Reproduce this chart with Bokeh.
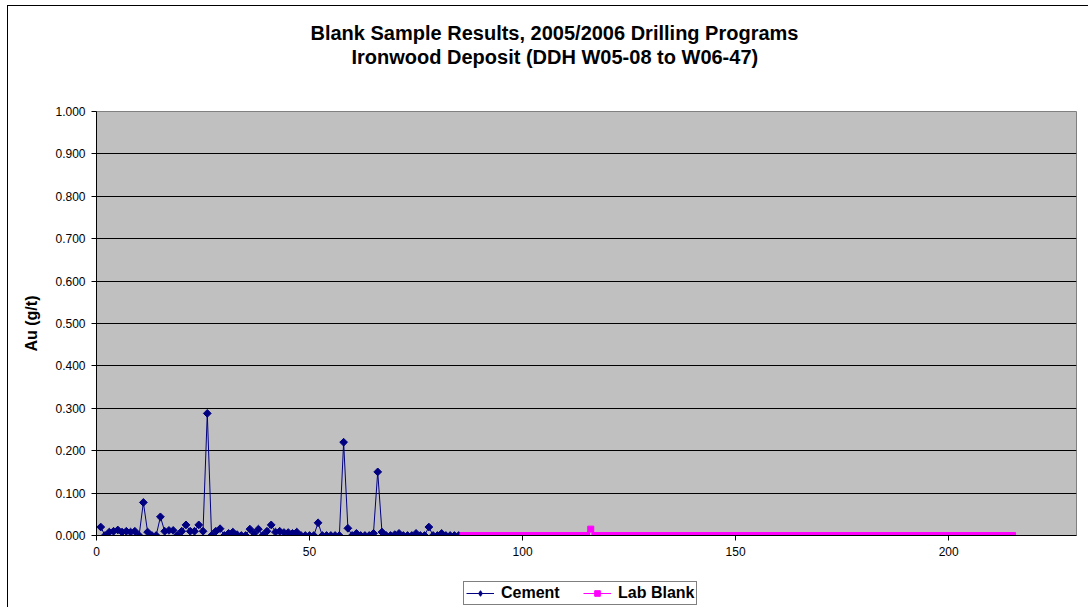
from bokeh.plotting import figure
from bokeh.layouts import column
from bokeh.models import (Range1d, SingleIntervalTicker, NumeralTickFormatter,
                          Legend, LegendItem, Title)
from bokeh.embed import file_html
from bokeh.resources import INLINE
import numpy as np

# ---- data ----
title_lines = ["Blank Sample Results, 2005/2006 Drilling Programs",
               "Ironwood Deposit (DDH W05-08 to W06-47)"]
y_label = "Au (g/t)"
series_names = ["Cement", "Lab Blank"]

cement_sample = list(range(1, 86))
cement_au = [
    0.020, 0.000, 0.008, 0.010, 0.013, 0.008, 0.010, 0.008, 0.010, 0.000,
    0.078, 0.008, 0.000, 0.000, 0.044, 0.010, 0.012, 0.012, 0.000, 0.010,
    0.025, 0.010, 0.010, 0.025, 0.010, 0.288, 0.000, 0.010, 0.016, 0.000,
    0.005, 0.008, 0.002, 0.000, 0.000, 0.015, 0.005, 0.015, 0.000, 0.010,
    0.025, 0.008, 0.010, 0.007, 0.007, 0.005, 0.008, 0.000, 0.000, 0.000,
    0.000, 0.030, 0.000, 0.000, 0.000, 0.000, 0.000, 0.220, 0.017, 0.000,
    0.005, 0.000, 0.000, 0.000, 0.005, 0.150, 0.008, 0.000, 0.000, 0.002,
    0.005, 0.000, 0.000, 0.000, 0.005, 0.000, 0.000, 0.020, 0.000, 0.000,
    0.005, 0.000, 0.000, 0.000, 0.000,
]

lab_sample = list(range(86, 216))
lab_au = [
    0.000, 0.000, 0.000, 0.000, 0.000, 0.000, 0.000, 0.000, 0.000, 0.000,
    0.000, 0.000, 0.000, 0.000, 0.000, 0.000, 0.000, 0.000, 0.000, 0.000,
    0.000, 0.000, 0.000, 0.000, 0.000, 0.000, 0.000, 0.000, 0.000, 0.000,
    0.015, 0.000, 0.000, 0.000, 0.000, 0.000, 0.000, 0.000, 0.000, 0.000,
    0.000, 0.000, 0.000, 0.000, 0.000, 0.000, 0.000, 0.000, 0.000, 0.000,
    0.000, 0.000, 0.000, 0.000, 0.000, 0.000, 0.000, 0.000, 0.000, 0.000,
    0.000, 0.000, 0.000, 0.000, 0.000, 0.000, 0.000, 0.000, 0.000, 0.000,
    0.000, 0.000, 0.000, 0.000, 0.000, 0.000, 0.000, 0.000, 0.000, 0.000,
    0.000, 0.000, 0.000, 0.000, 0.000, 0.000, 0.000, 0.000, 0.000, 0.000,
    0.000, 0.000, 0.000, 0.000, 0.000, 0.000, 0.000, 0.000, 0.000, 0.000,
    0.000, 0.000, 0.000, 0.000, 0.000, 0.000, 0.000, 0.000, 0.000, 0.000,
    0.000, 0.000, 0.000, 0.000, 0.000, 0.000, 0.000, 0.000, 0.000, 0.000,
    0.000, 0.000, 0.000, 0.000, 0.000, 0.000, 0.000, 0.000, 0.000, 0.000,
]

FONT = "Liberation Sans"
NAVY = "#000080"
MAGENTA = "#FF00FF"

# ---------------- main chart ----------------
p = figure(width=1080, height=566, output_backend="svg", toolbar_location=None,
           x_range=Range1d(0, 230), y_range=Range1d(0, 1),
           min_border_left=88, min_border_right=12, min_border_top=105, min_border_bottom=37)
p.background_fill_color = "#C0C0C0"
p.border_fill_color = "white"
p.outline_line_color = "#808080"
p.outline_line_width = 1

p.xaxis.ticker = SingleIntervalTicker(interval=50)
p.yaxis.ticker = SingleIntervalTicker(interval=0.1)
p.yaxis.formatter = NumeralTickFormatter(format="0.000")
for ax in (p.xaxis[0], p.yaxis[0]):
    ax.axis_line_color = "black"
    ax.major_tick_line_color = "black"
    ax.major_tick_in = 0
    ax.major_tick_out = 5
    ax.minor_tick_line_color = None
    ax.major_label_text_font = FONT
    ax.major_label_text_font_size = "12px"
    ax.major_label_text_color = "black"
    ax.major_label_standoff = 6
p.yaxis.axis_label = y_label
p.yaxis.axis_label_text_font = FONT
p.yaxis.axis_label_text_font_size = "16px"
p.yaxis.axis_label_text_font_style = "bold"
p.yaxis.axis_label_text_color = "black"
p.yaxis.axis_label_standoff = 12

p.xgrid.visible = False
p.ygrid.ticker = SingleIntervalTicker(interval=0.1)
p.ygrid.grid_line_color = "black"
p.ygrid.grid_line_width = 1

p.line(cement_sample, cement_au, line_color=NAVY, line_width=1)
p.scatter(cement_sample, cement_au, marker="square", angle=np.pi / 4, size=5.5,
          fill_color=NAVY, line_color=NAVY)
p.line(lab_sample, lab_au, line_color=MAGENTA, line_width=1)
p.scatter(lab_sample, lab_au, marker="square", size=6,
          fill_color=MAGENTA, line_color=MAGENTA)

# titles: spacer closest to frame, then line 2, then line 1
p.add_layout(Title(text=" ", text_font_size="1px", standoff=40), "above")
p.add_layout(Title(text=title_lines[1], align="left", offset=255, vertical_align="middle",
                   text_font=FONT, text_font_size="20px", text_font_style="bold",
                   text_color="black", standoff=0), "above")
p.add_layout(Title(text=title_lines[0], align="left", offset=214, vertical_align="middle",
                   text_font=FONT, text_font_size="20px", text_font_style="bold",
                   text_color="black", standoff=0), "above")

# ---------------- legend strip below the chart ----------------
# (the series are drawn again here only as legend keys; the range keeps them out of view)
lg = figure(width=1080, height=35, output_backend="svg", toolbar_location=None,
            x_range=Range1d(-20, -10), y_range=Range1d(-20, -10),
            min_border_left=0, min_border_right=0, min_border_top=0, min_border_bottom=0)
lg.axis.visible = False
lg.grid.visible = False
lg.outline_line_color = None
lg.background_fill_color = "white"
lg.border_fill_color = "white"
k1 = lg.line(cement_sample, cement_au, line_color=NAVY, line_width=1)
k1m = lg.scatter(cement_sample, cement_au, marker="diamond", size=9,
                 fill_color=NAVY, line_color=NAVY)
k2 = lg.line(lab_sample, lab_au, line_color=MAGENTA, line_width=1)
k2m = lg.scatter(lab_sample, lab_au, marker="square", size=6,
                 fill_color=MAGENTA, line_color=MAGENTA)

legend = Legend(items=[LegendItem(label=series_names[0], renderers=[k1, k1m]),
                       LegendItem(label=series_names[1], renderers=[k2, k2m])],
                orientation="horizontal", location=(367, 2))
legend.label_text_font = FONT
legend.label_text_font_size = "16px"
legend.label_text_font_style = "bold"
legend.label_text_color = "black"
legend.border_line_color = "black"
legend.border_line_width = 1
legend.background_fill_color = "white"
legend.background_fill_alpha = 1
legend.glyph_width = 28
legend.glyph_height = 14
legend.label_height = 14
legend.label_width = 68
legend.padding = 2
legend.spacing = 14
legend.label_standoff = 7
legend.margin = 0
lg.add_layout(legend)

root = column(p, lg, spacing=0,
              styles={"margin-left": "7px", "margin-top": "5px",
                      "border-left": "1px solid black", "border-top": "1px solid black"})

open("out.html", "w").write(file_html(root, INLINE))
